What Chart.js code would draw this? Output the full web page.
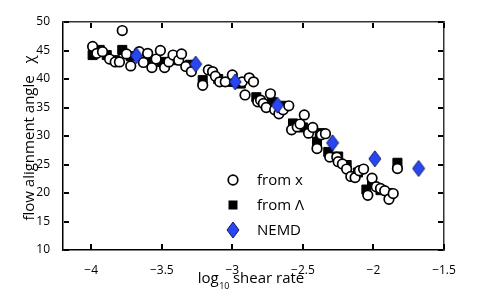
<!DOCTYPE html>
<html>
<head>
<meta charset="utf-8">
<script src="https://cdn.jsdelivr.net/npm/chart.js@4.4.1/dist/chart.umd.min.js"></script>
<style>
  html, body { margin: 0; padding: 0; background: #fff; }
  #wrap { width: 490px; height: 294px; }
</style>
</head>
<body>
<div id="wrap"><canvas id="c" width="490" height="294"></canvas></div>
<script>
// data
const xTicks = [-4, -3.5, -3, -2.5, -2, -1.5];
const yTicks = [10, 15, 20, 25, 30, 35, 40, 45, 50];

const chiX = [-3.99,-3.96,-3.92,-3.87,-3.83,-3.80,-3.78,-3.75,-3.72,-3.66,-3.63,-3.60,-3.57,-3.54,-3.51,-3.48,-3.45,-3.42,-3.38,-3.36,-3.33,-3.29,-3.21,-3.17,-3.14,-3.12,-3.09,-3.05,-3.00,-2.93,-2.91,-2.88,-2.85,-2.82,-2.80,-2.78,-2.76,-2.73,-2.70,-2.67,-2.64,-2.60,-2.58,-2.54,-2.52,-2.49,-2.46,-2.43,-2.40,-2.37,-2.34,-2.31,-2.26,-2.25,-2.22,-2.19,-2.16,-2.13,-2.10,-2.07,-2.04,-2.01,-1.98,-1.95,-1.92,-1.89,-1.86,-1.83];
const chiY = [45.7,44.5,44.8,43.5,43.0,43.0,48.5,44.4,42.3,44.8,42.9,44.5,42.0,43.5,45.0,42.0,43.0,44.2,43.3,44.4,42.2,41.3,38.9,41.6,41.3,40.5,39.5,39.5,40.7,39.5,37.2,40.2,39.5,36.0,36.3,35.7,35.0,37.4,34.6,33.9,34.6,35.3,31.1,31.6,32.1,33.7,30.5,31.5,27.8,30.2,30.4,26.3,26.3,25.5,25.1,24.2,22.9,22.7,23.9,24.2,19.6,22.6,21.1,20.8,20.4,18.9,19.9,24.3];

const lamX = [-3.99,-3.94,-3.89,-3.83,-3.78,-3.72,-3.60,-3.50,-3.40,-3.30,-3.21,-3.10,-3.00,-2.94,-2.83,-2.72,-2.65,-2.57,-2.50,-2.38,-2.40,-2.32,-2.25,-2.19,-2.11,-2.05,-2.01,-1.95,-1.89,-1.83];
const lamY = [44.2,45.1,44.2,43.3,45.1,44.0,43.5,43.0,43.3,42.5,39.8,40.0,39.5,39.2,36.8,36.0,35.3,32.2,31.5,30.5,29.0,27.2,26.4,24.9,23.6,20.6,21.7,20.5,20.0,25.3];

const nemdX = [-3.68, -3.26, -2.98, -2.68, -2.29, -1.99, -1.68];
const nemdY = [44.1, 42.6, 39.5, 35.4, 28.8, 26.0, 24.3];

const legendLabels = ['from x', 'from \u039B', 'NEMD'];

const BLUE = '#2a46f2';
const FONT = '"Open Sans", "Liberation Sans", sans-serif';

function pts(xs, ys) { return xs.map((x, i) => ({ x: x, y: ys[i] })); }

// tall diamond marker
function makeDiamond(w, h) {
  const c = document.createElement('canvas');
  c.width = w + 2; c.height = h + 2;
  const g = c.getContext('2d');
  g.beginPath();
  g.moveTo(c.width / 2, 1);
  g.lineTo(c.width - 1, c.height / 2);
  g.lineTo(c.width / 2, c.height - 1);
  g.lineTo(1, c.height / 2);
  g.closePath();
  g.fillStyle = BLUE;
  g.fill();
  g.lineWidth = 1;
  g.strokeStyle = '#0a1a60';
  g.stroke();
  return c;
}
const diamond = makeDiamond(12, 16);

const circleStyle = { pointStyle: 'circle', radius: 4.8, backgroundColor: '#fff', borderColor: '#000', borderWidth: 1.7 };
const squareStyle = { pointStyle: 'rect', radius: 6.4, backgroundColor: '#000', borderColor: '#000', borderWidth: 1 };

// legend, axis titles, then inward ticks
const decor = {
  id: 'decor',
  afterDraw(chart) {
    const ctx = chart.ctx;
    ctx.save();
    const lx = 233, ly = [180, 205, 230];
    ctx.fillStyle = '#fff'; ctx.strokeStyle = '#000'; ctx.lineWidth = 1.7;
    ctx.beginPath(); ctx.arc(lx, ly[0], 4.8, 0, Math.PI * 2); ctx.fill(); ctx.stroke();
    ctx.fillStyle = '#000';
    ctx.fillRect(lx - 4.5, ly[1] - 4.5, 9, 9);
    ctx.drawImage(diamond, lx - diamond.width / 2, ly[2] - diamond.height / 2);
    ctx.font = '15px ' + FONT;
    ctx.textBaseline = 'middle';
    ctx.textAlign = 'left';
    legendLabels.forEach((t, i) => ctx.fillText(t, 257, ly[i] + 1));

    // x title with subscript
    ctx.textBaseline = 'alphabetic';
    const p1 = 'log', p2 = '10', p3 = ' shear rate';
    ctx.font = '15px ' + FONT; const w1 = ctx.measureText(p1).width;
    ctx.font = '9px ' + FONT; const w2 = ctx.measureText(p2).width;
    ctx.font = '15px ' + FONT; const w3 = ctx.measureText(p3).width;
    const sx = 251 - (w1 + w2 + w3) / 2;
    ctx.fillText(p1, sx, 283);
    ctx.font = '9px ' + FONT; ctx.fillText(p2, sx + w1 + 0.5, 289);
    ctx.font = '15px ' + FONT; ctx.fillText(p3, sx + w1 + w2, 283);

    // y title
    ctx.translate(34, 138);
    ctx.rotate(-Math.PI / 2);
    ctx.textAlign = 'center';
    ctx.font = '15px ' + FONT;
    ctx.fillText('flow alignment angle   \u03C7', 0, 0);
    ctx.restore();

    // inward ticks on all four sides
    const xs = chart.scales.x, ys = chart.scales.y;
    const L = 63, R = 444, T = 22, B = 250;
    ctx.save();
    ctx.fillStyle = '#000';
    xTicks.forEach(v => {
      const px = Math.round(xs.getPixelForValue(v));
      ctx.fillRect(px - 1, B - 6, 2, 5);
      ctx.fillRect(px - 1, T + 1, 2, 5);
    });
    yTicks.forEach(v => {
      const py = Math.round(ys.getPixelForValue(v));
      ctx.fillRect(L + 1, py - 1, 5, 2);
      ctx.fillRect(R - 6, py - 1, 5, 2);
    });
    ctx.restore();
  }
};

const frameAxis = (pos) => ({
  type: 'linear', position: pos, display: true,
  min: pos === 'top' ? -4.2 : 10, max: pos === 'top' ? -1.5 : 50,
  afterFit: s => { if (pos === 'top') s.height = 0; else s.width = 0; },
  grid: { display: false },
  border: { display: true, color: '#333', width: 1.5 },
  ticks: { display: false }
});

new Chart(document.getElementById('c'), {
  type: 'scatter',
  data: {
    datasets: [
      Object.assign({ label: legendLabels[0], data: pts(chiX, chiY), order: 1 }, circleStyle),
      Object.assign({ label: legendLabels[1], data: pts(lamX, lamY), order: 2 }, squareStyle),
      { label: legendLabels[2], data: pts(nemdX, nemdY), order: 0, pointStyle: diamond, radius: 8 }
    ]
  },
  options: {
    responsive: false,
    animation: false,
    layout: { padding: { top: 22, right: 46, left: 0, bottom: 0 } },
    plugins: { legend: { display: false }, tooltip: { enabled: false } },
    scales: {
      x: {
        type: 'linear', min: -4.2, max: -1.5,
        afterBuildTicks: s => { s.ticks = xTicks.map(v => ({ value: v })); },
        afterFit: s => { s.height = 44; },
        grid: { display: false }, border: { display: true, color: '#000', width: 1.5 },
        ticks: { color: '#000', padding: 5, font: { size: 12, family: FONT },
          callback: v => String(v).replace('-', '\u2212') }
      },
      y: {
        type: 'linear', min: 10, max: 50,
        afterBuildTicks: s => { s.ticks = yTicks.map(v => ({ value: v })); },
        afterFit: s => { s.width = 63; },
        grid: { display: false }, border: { display: true, color: '#000', width: 1.5 },
        ticks: { color: '#000', padding: 5, font: { size: 12, family: FONT } }
      },
      x2: frameAxis('top'),
      y2: frameAxis('right')
    }
  },
  plugins: [decor]
});
</script>
</body>
</html>
